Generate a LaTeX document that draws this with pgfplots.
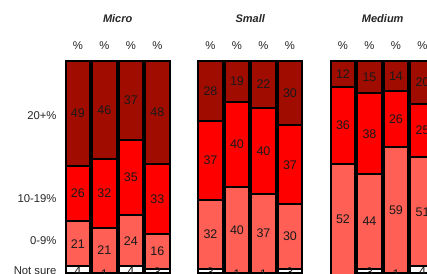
\documentclass[border=0pt]{standalone}
\usepackage{pgfplots}
\usepackage{pgfplotstable}
\usepackage{fontspec}
\setmainfont{Liberation Sans}
\pgfplotsset{compat=1.18}
\definecolor{dred}{HTML}{A00C00}
\definecolor{rred}{HTML}{FF0000}
\definecolor{sal}{HTML}{FF5F55}

\pgfplotstableread{
x y
0 4
1 1
2 4
3 3
5 3
6 1
7 1
8 3
10 0
11 3
12 1
13 4
}\notsure
\pgfplotstableread{
x y
0 21
1 21
2 24
3 16
5 32
6 40
7 37
8 30
10 52
11 44
12 59
13 51
}\lowband
\pgfplotstableread{
x y
0 26
1 32
2 35
3 33
5 37
6 40
7 40
8 37
10 36
11 38
12 26
13 25
}\midband
\pgfplotstableread{
x y
0 49
1 46
2 37
3 48
5 28
6 19
7 22
8 30
10 12
11 15
12 14
13 20
}\highband

\begin{document}
\begin{tikzpicture}
\useasboundingbox (0,0) rectangle (427pt,273pt);
\clip (0,0) rectangle (427pt,273pt);
\begin{axis}[
  at={(0,0)}, anchor=south west,
  scale only axis, width=427pt, height=212pt,
  xmin=-2.94, xmax=13.17, ymin=0.93, ymax=100,
  clip=false,
  ybar stacked, bar width=24.5pt,
  axis line style={draw=none},
  major tick length=0pt, tick style={draw=none},
  xtick={0,1,2,3,5,6,7,8,10,11,12,13},
  xticklabels={\%,\%,\%,\%,\%,\%,\%,\%,\%,\%,\%,\%},
  xticklabel pos=right,
  xticklabel style={yshift=8pt},
  extra x ticks={1.5,6.5,11.5},
  extra x tick labels={Micro,Small,Medium},
  extra x tick style={xticklabel style={yshift=27pt,font=\fontsize{11}{13}\selectfont\bfseries\itshape}},
  ytick={1.9,15.9,35.5,74.3},
  yticklabels={Not sure,0-9\%,10-19\%,20+\%},
  yticklabel style={xshift=60pt},
  tick label style={font=\fontsize{11.3}{13}\selectfont, text=black!85},
  /pgf/number format/assume math mode=true,
  point meta=explicit,
  nodes near coords,
  nodes near coords style={font=\fontsize{12.5}{14}\selectfont, text=black!90, anchor=center},
  every axis plot/.append style={draw=black, line width=2pt},
]
\addplot[fill=white] table[x=x,y=y,meta=y] {\notsure};
\addplot[fill=sal] table[x=x,y=y,meta=y] {\lowband};
\addplot[fill=rred] table[x=x,y=y,meta=y] {\midband};
\addplot[fill=dred] table[x=x,y=y,meta=y] {\highband};
\end{axis}
\end{tikzpicture}
\end{document}
